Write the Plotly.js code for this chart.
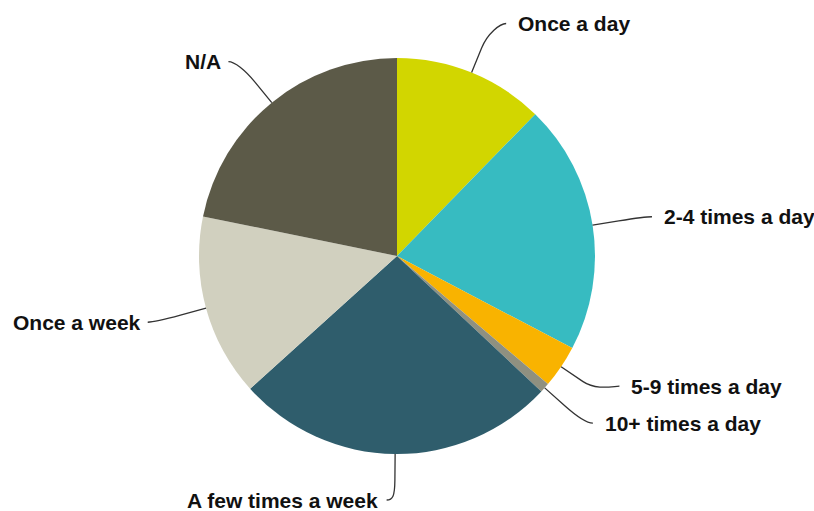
<!DOCTYPE html>
<html><head><meta charset="utf-8">
<script src="https://cdn.plot.ly/plotly-3.0.1.min.js"></script>
<style>html,body{margin:0;padding:0;background:#fff}#chart{width:814px;height:511px}</style>
</head><body><div id="chart"></div>
<script>
const categories = ["Once a day","2-4 times a day","5-9 times a day","10+ times a day","A few times a week","Once a week","N/A"];
const shares = [12.3, 20.4, 3.5, 0.8, 26.3, 14.9, 21.8];
const sliceColors = ["#d2d600","#37bbc1","#f9b300","#8f9080","#2f5d6c","#d1d0bf","#5c5a48"];

const W = 814, H = 511;
const cx = 397, cy = 256, r = 198;
const labelRy = 251, labelRx = 256, minGap = 37, maxY = 500;
const px = x => x / W, py = y => 1 - y / H;

const total = shares.reduce((a, b) => a + b, 0);
let cum = 0;
const items = shares.map((v, i) => {
  const a = (cum + v / 2) / total * 2 * Math.PI;
  cum += v;
  const s = Math.sin(a) >= 0 ? 1 : -1;
  let y = cy - labelRy * Math.cos(a);
  let clamped = false;
  if (y > maxY) { y = maxY; clamped = true; }
  return {i, a, s, y, clamped};
});
[1, -1].forEach(side => {
  const g = items.filter(d => d.s === side).sort((p, q) => p.y - q.y);
  for (let k = g.length - 2; k >= 0; k--) {
    if (g[k].y > g[k + 1].y - minGap) g[k].y = g[k + 1].y - minGap;
  }
});
const annotations = [], shapes = [];
items.forEach(d => {
  let x;
  if (!d.clamped) {
    const dy = d.y - cy;
    x = cx + d.s * Math.sqrt(Math.max(0, labelRx * labelRx - dy * dy));
  } else {
    x = cx + labelRy * Math.sin(d.a) - 6;
  }
  const ex = cx + r * Math.sin(d.a), ey = cy - r * Math.cos(d.a);
  const rp = r + 0.5 * (labelRy - r);
  const p2x = cx + rp * Math.sin(d.a), p2y = cy - rp * Math.cos(d.a);
  const c2x = p2x + (p2x - ex) * 0.6, c2y = p2y + (p2y - ey) * 0.6;
  const tx = x + d.s * 2;
  const path = `M ${px(tx)} ${py(d.y)} C ${px(x - d.s * 4)} ${py(d.y)} ${px(c2x)} ${py(c2y)} ${px(p2x)} ${py(p2y)} L ${px(ex)} ${py(ey)}`;
  shapes.push({type: 'path', xref: 'paper', yref: 'paper', path, line: {color: '#333333', width: 1.3}});
  annotations.push({
    xref: 'paper', yref: 'paper', x: px(tx + (d.s > 0 ? 10 : (d.clamped ? -7 : -5))), y: py(d.y),
    xanchor: d.s > 0 ? 'left' : 'right', yanchor: 'middle', showarrow: false,
    text: categories[d.i],
    font: {family: 'Liberation Sans, Arial, sans-serif', size: 21, color: '#111111', weight: 'bold'}
  });
});

Plotly.newPlot('chart', [{
  type: 'pie', labels: categories, values: shares, sort: false, direction: 'clockwise', rotation: 0,
  marker: {colors: sliceColors, line: {width: 0}},
  textinfo: 'none', hoverinfo: 'label+percent',
  domain: {x: [(cx - r) / W, (cx + r) / W], y: [(H - cy - r) / H, (H - cy + r) / H]}
}], {
  width: W, height: H, margin: {l: 0, r: 0, t: 0, b: 0}, showlegend: false,
  paper_bgcolor: '#ffffff', annotations, shapes
}, {displayModeBar: false, staticPlot: true});
</script></body></html>
